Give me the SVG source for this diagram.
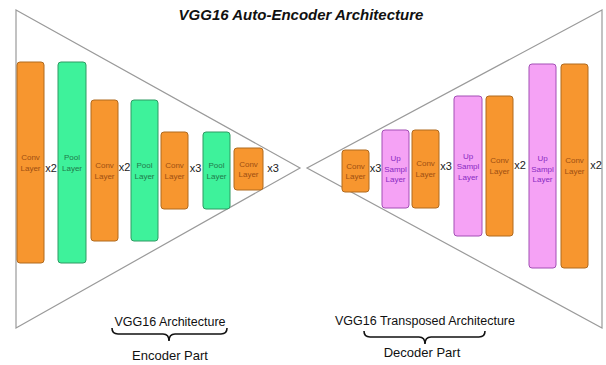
<svg xmlns="http://www.w3.org/2000/svg" width="606" height="365" viewBox="0 0 606 365">
<style>
.tri{fill:none;stroke:#9a9a9a;stroke-width:1.2}
.conv{fill:#F7962F;stroke:#B06A1E;stroke-width:1}
.pool{fill:#3EF29B;stroke:#2E9A62;stroke-width:1}
.up{fill:#F5A2F5;stroke:#A34FB5;stroke-width:1}
.lt{font-family:"Liberation Sans",Arial,sans-serif;font-size:8px;text-anchor:middle}
.ct{fill:#9E4F12}
.pt{fill:#1E7A4A}
.ut{fill:#8A2BC2}
.x{font-family:"Liberation Sans",Arial,sans-serif;font-size:11px;text-anchor:middle;fill:#222}
.lab{font-family:"Liberation Sans",Arial,sans-serif;font-size:12.5px;text-anchor:middle;fill:#111}
.brace{fill:none;stroke:#111;stroke-width:1.6}
.title{font-family:"Liberation Sans",Arial,sans-serif;font-size:15px;font-weight:bold;font-style:italic;text-anchor:middle;fill:#111}
</style>
<rect width="606" height="365" fill="#ffffff"/>
<text class="title" x="301" y="20">VGG16 Auto-Encoder Architecture</text>
<g id="encoder-frame"><polygon class="tri" points="16,10 300,168 16,328"/></g>
<g id="decoder-frame"><polygon class="tri" points="602,10 307,168 602,328"/></g>
<g id="connectors"></g>
<g id="enc-conv1"><rect class="conv" x="17" y="62" width="27" height="201" rx="3"/><text class="lt ct" x="30.5" y="160">Conv</text><text class="lt ct" x="30.5" y="170.5">Layer</text></g>
<text class="x" x="51" y="172">x2</text>
<g id="enc-pool1"><rect class="pool" x="58" y="62" width="28" height="201" rx="3"/><text class="lt pt" x="72" y="160">Pool</text><text class="lt pt" x="72" y="170.5">Layer</text></g>
<g id="enc-conv2"><rect class="conv" x="91" y="100" width="27" height="141" rx="3"/><text class="lt ct" x="104.5" y="168">Conv</text><text class="lt ct" x="104.5" y="178.5">Layer</text></g>
<text class="x" x="124.5" y="171">x2</text>
<g id="enc-pool2"><rect class="pool" x="131" y="100" width="27" height="141" rx="3"/><text class="lt pt" x="144.5" y="168">Pool</text><text class="lt pt" x="144.5" y="178.5">Layer</text></g>
<g id="enc-conv3"><rect class="conv" x="161" y="132" width="27" height="77" rx="3"/><text class="lt ct" x="174.5" y="168">Conv</text><text class="lt ct" x="174.5" y="178.5">Layer</text></g>
<text class="x" x="195.5" y="172">x3</text>
<g id="enc-pool3"><rect class="pool" x="203" y="132" width="27" height="77" rx="3"/><text class="lt pt" x="216.5" y="168">Pool</text><text class="lt pt" x="216.5" y="178.5">Layer</text></g>
<g id="enc-conv4"><rect class="conv" x="234" y="148" width="29" height="42" rx="3"/><text class="lt ct" x="248.5" y="166.5">Conv</text><text class="lt ct" x="248.5" y="177">Layer</text></g>
<text class="x" x="273" y="172">x3</text>
<g id="dec-conv1"><rect class="conv" x="342" y="150" width="27" height="42" rx="3"/><text class="lt ct" x="355.5" y="168.5">Conv</text><text class="lt ct" x="355.5" y="179">Layer</text></g>
<text class="x" x="375.5" y="172">x3</text>
<g id="dec-up1"><rect class="up" x="382" y="130" width="27" height="78" rx="3"/><text class="lt ut" x="395.5" y="161">Up</text><text class="lt ut" x="395.5" y="171.5">Sampl</text><text class="lt ut" x="395.5" y="182">Layer</text></g>
<g id="dec-conv2"><rect class="conv" x="412" y="130" width="27" height="78" rx="3"/><text class="lt ct" x="425.5" y="166">Conv</text><text class="lt ct" x="425.5" y="176.5">Layer</text></g>
<text class="x" x="446" y="170">x3</text>
<g id="dec-up2"><rect class="up" x="454" y="96" width="28" height="140" rx="3"/><text class="lt ut" x="468" y="158.5">Up</text><text class="lt ut" x="468" y="169">Sampl</text><text class="lt ut" x="468" y="179.5">Layer</text></g>
<g id="dec-conv3"><rect class="conv" x="486" y="96" width="27" height="140" rx="3"/><text class="lt ct" x="499.5" y="163">Conv</text><text class="lt ct" x="499.5" y="173.5">Layer</text></g>
<text class="x" x="520" y="169">x2</text>
<g id="dec-up3"><rect class="up" x="529" y="64" width="27" height="204" rx="3"/><text class="lt ut" x="542.5" y="161">Up</text><text class="lt ut" x="542.5" y="171.5">Sampl</text><text class="lt ut" x="542.5" y="182">Layer</text></g>
<g id="dec-conv4"><rect class="conv" x="561" y="64" width="27" height="204" rx="3"/><text class="lt ct" x="574.5" y="163">Conv</text><text class="lt ct" x="574.5" y="173.5">Layer</text></g>
<text class="x" x="596" y="169">x2</text>
<g id="enc-label">
<text class="lab" x="170" y="326">VGG16 Architecture</text>
<path class="brace" d="M112,328 Q112,334 118,334 L163,334 Q169,334 169,341 Q169,334 175,334 L221,334 Q227,334 227,328"/>
<text class="lab" x="170" y="360" style="font-size:13px">Encoder Part</text>
</g>
<g id="dec-label">
<text class="lab" x="425" y="325">VGG16 Transposed Architecture</text>
<path class="brace" d="M364,331 Q364,337 370,337 L419,337 Q425,337 425,344 Q425,337 431,337 L479,337 Q485,337 485,331"/>
<text class="lab" x="422" y="357" style="font-size:13px">Decoder Part</text>
</g>
</svg>
